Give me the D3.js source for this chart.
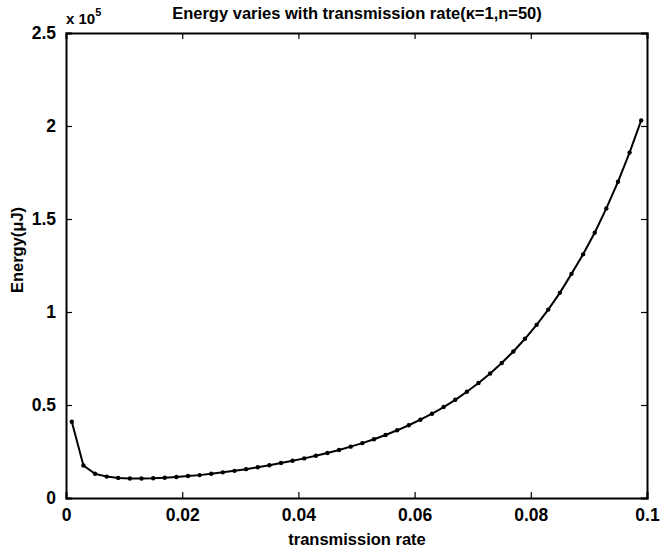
<!DOCTYPE html>
<meta charset="utf-8">
<head>
    <title>Energy vs transmission rate</title>
</head>
<style>
    body { margin: 0; background: #fff; }
    text { font-family: "Liberation Sans", Arial, sans-serif; font-weight: bold; fill: #000; }
</style>
<body>
<svg id="chart"></svg>
<script src="https://cdnjs.cloudflare.com/ajax/libs/d3/7.8.5/d3.min.js"></script>
<script>
    // Data (energy in uJ)
    var rates = [0.001, 0.003, 0.005, 0.007, 0.009, 0.011, 0.013, 0.015, 0.017, 0.019,
                 0.021, 0.023, 0.025, 0.027, 0.029, 0.031, 0.033, 0.035, 0.037, 0.039,
                 0.041, 0.043, 0.045, 0.047, 0.049, 0.051, 0.053, 0.055, 0.057, 0.059,
                 0.061, 0.063, 0.065, 0.067, 0.069, 0.071, 0.073, 0.075, 0.077, 0.079,
                 0.081, 0.083, 0.085, 0.087, 0.089, 0.091, 0.093, 0.095, 0.097, 0.099];
    var energy = [41000, 17500, 13000, 11500, 10800, 10500, 10500, 10600, 10900, 11300,
                  11800, 12300, 13000, 13800, 14600, 15500, 16500, 17600, 18800, 20000,
                  21300, 22700, 24200, 25800, 27600, 29500, 31600, 33900, 36400, 39100,
                  42100, 45300, 48900, 52800, 57100, 61800, 66900, 72600, 78800, 85600,
                  93100, 101300, 110300, 120500, 131000, 142600, 155700, 170000, 185700, 203000];
    var xTicks = [0, 0.02, 0.04, 0.06, 0.08, 0.1];
    var yTicks = [0, 50000, 100000, 150000, 200000, 250000];

    var width = 661, height = 554;
    // plot box (note: "top" is taken by window.top, so use a box object)
    var box = { left: 66, right: 647, top: 33, bottom: 498 };

    var svg = d3.select('#chart').attr('width', width).attr('height', height);

    var x = d3.scaleLinear().domain([0, 0.1]).range([box.left, box.right]);
    var y = d3.scaleLinear().domain([0, 250000]).range([box.bottom, box.top]);

    var data = rates.map((r, i) => ({ r: r, e: energy[i] }));

    // axes, MATLAB style: ticks inward on all four sides
    var fmtX = d => d3.format('~g')(d);
    var fmtY = d => d3.format('~g')(d / 1e5);

    svg.append('g')
        .attr('transform', `translate(0,${box.bottom})`)
        .call(d3.axisBottom(x).tickValues(xTicks).tickSize(-6).tickPadding(11).tickFormat(fmtX));
    svg.append('g')
        .attr('transform', `translate(0,${box.top})`)
        .call(d3.axisTop(x).tickValues(xTicks).tickSize(-6).tickFormat(''));
    svg.append('g')
        .attr('transform', `translate(${box.left},0)`)
        .call(d3.axisLeft(y).tickValues(yTicks).tickSize(-6).tickPadding(10).tickFormat(fmtY));
    svg.append('g')
        .attr('transform', `translate(${box.right},0)`)
        .call(d3.axisRight(y).tickValues(yTicks).tickSize(-6).tickFormat(''));

    svg.selectAll('.domain').attr('stroke', '#000').attr('stroke-width', 2);
    svg.selectAll('.tick line').attr('stroke', '#000').attr('stroke-width', 1.2);
    svg.selectAll('.tick text')
        .attr('font-family', '"Liberation Sans", Arial, sans-serif')
        .attr('font-weight', 'bold')
        .attr('font-size', 17.5)
        .attr('fill', '#000');

    // curve
    var line = d3.line().x(d => x(d.r)).y(d => y(d.e));
    svg.append('path')
        .datum(data)
        .attr('d', line)
        .attr('fill', 'none')
        .attr('stroke', '#000')
        .attr('stroke-width', 2);

    svg.append('g')
        .selectAll('circle')
        .data(data)
        .enter()
        .append('circle')
        .attr('cx', d => x(d.r))
        .attr('cy', d => y(d.e))
        .attr('r', 2.2)
        .attr('fill', '#000');

    // labels
    svg.append('text')
        .attr('x', 357).attr('y', 19)
        .attr('text-anchor', 'middle')
        .attr('font-size', 16.5)
        .text('Energy varies with transmission rate(κ=1,n=50)');

    var mult = svg.append('text')
        .attr('x', box.left).attr('y', 24)
        .attr('font-size', 15);
    mult.append('tspan').text('x 10');
    mult.append('tspan').attr('dy', -8).attr('font-size', 11).text('5');

    svg.append('text')
        .attr('x', 357).attr('y', 545)
        .attr('text-anchor', 'middle')
        .attr('font-size', 16.5)
        .text('transmission rate');

    svg.append('text')
        .attr('transform', `translate(23,250) rotate(-90)`)
        .attr('text-anchor', 'middle')
        .attr('font-size', 16.5)
        .text('Energy(μJ)');
</script>
</body>
</html>
